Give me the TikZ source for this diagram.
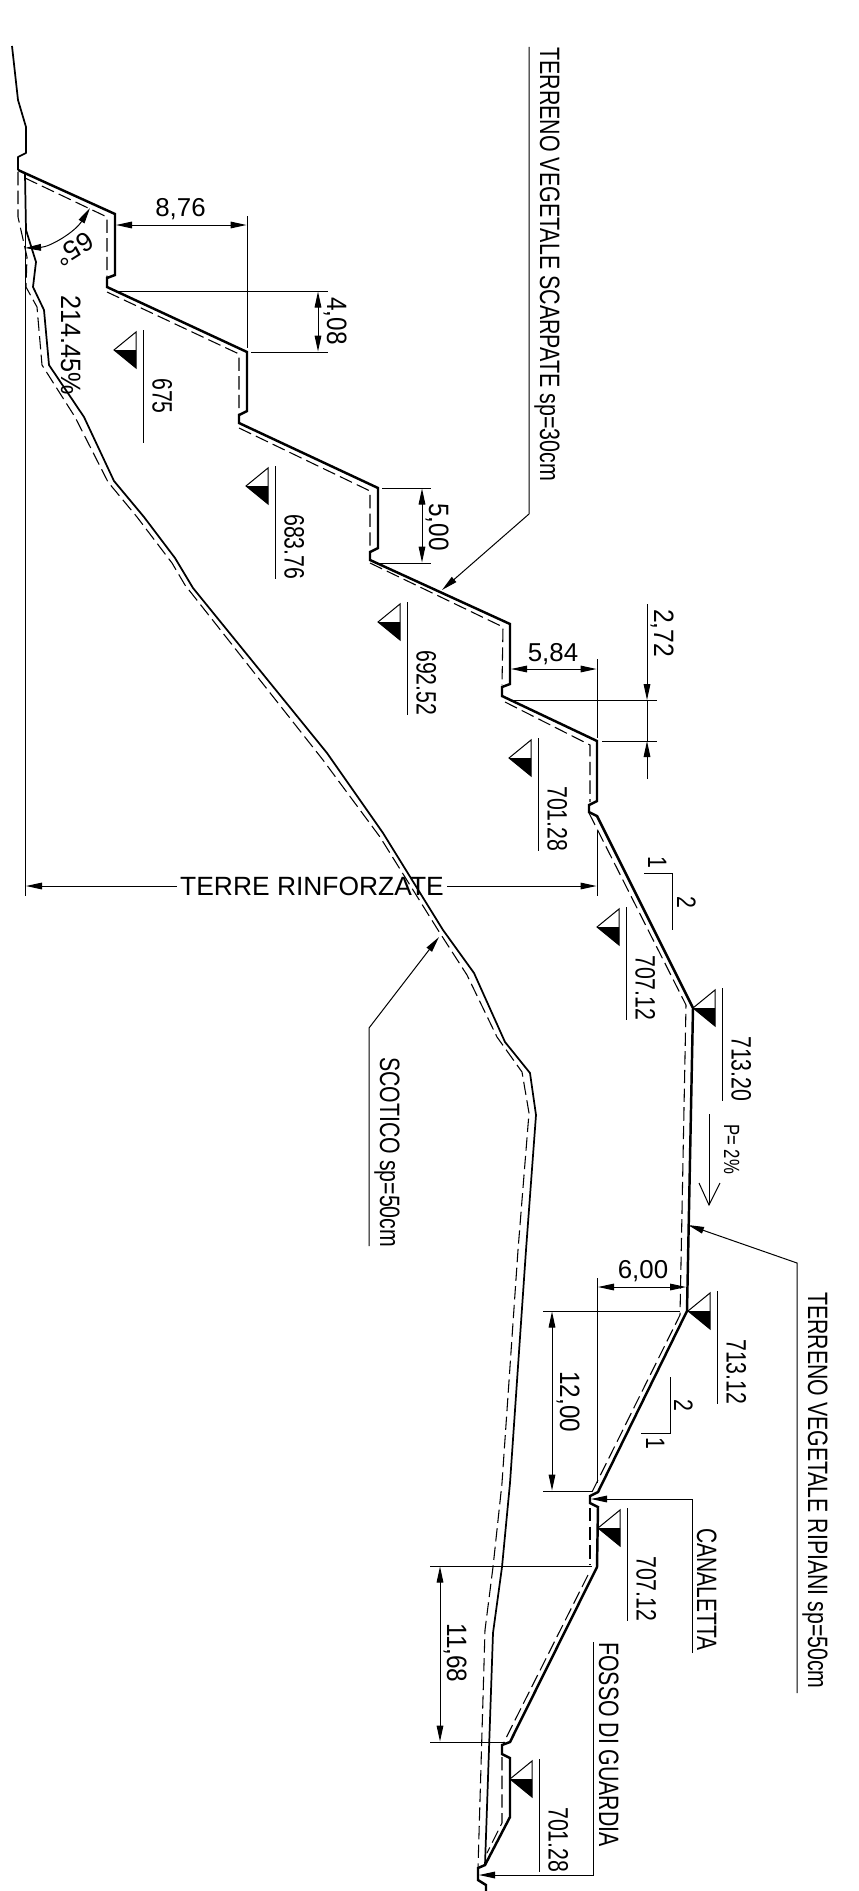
\documentclass[tikz,border=0pt]{standalone}
\usepackage{fontspec}
\usepackage{graphicx}
\setmainfont{Liberation Sans}
\usetikzlibrary{arrows.meta}
\newcommand{\vs}[2]{\scalebox{#1}[1]{#2}}
\tikzset{
  heavy/.style={line width=1.85pt,line join=miter},
  terrain/.style={line width=1.3pt,line join=round},
  dashline/.style={line width=0.8pt,dash pattern=on 10pt off 4pt},
  thin line/.style={line width=0.75pt},
  tip/.style={-{Triangle[length=12pt,width=5pt]}},
  tipboth/.style={{Triangle[length=12pt,width=5pt]}-{Triangle[length=12pt,width=5pt]}},
  vtext/.style={rotate=-90,anchor=base west,inner sep=0pt,font=\fontsize{21}{21}\selectfont},
  vmid/.style={rotate=-90,anchor=base,inner sep=0pt,font=\fontsize{20}{20}\selectfont},
  htext/.style={anchor=base,inner sep=0pt,font=\fontsize{19.4}{19.4}\selectfont},
}
\newcommand{\levelmark}[4]{%
  \draw[thin line,fill=white] (#2,#3) -- (#2+22,#3-18) -- (#2+22,#3+18) -- cycle;
  \fill (#2,#3) -- (#2+22,#3) -- (#2+22,#3+18) -- cycle;
  \draw[thin line] (#2+29,#3-20) -- (#2+29,#3+93);
  \node[vtext] (#1) at (#2+38.5,#3+28) {\vs{0.76}{#4}};
}
\begin{document}
\begin{tikzpicture}[x=0.75pt,y=-0.75pt]
\useasboundingbox (0,0) rectangle (858,1891);

% upper ground
\draw[terrain] (12,46) -- (18,100) -- (26,127) -- (26,153) -- (18,157) -- (18,170);
\draw[terrain] (25,174) -- (26,230) -- (36,262) -- (33,287) -- (44,310) -- (49,365) -- (84,417) -- (114,481)
  -- (144,517) -- (175,558) -- (193,588) -- (327,753) -- (383,833) -- (443,930) -- (474,973) -- (505,1042)
  -- (530,1073) -- (536,1115) -- (526,1250) -- (510,1483) -- (502,1567) -- (493,1633) -- (485,1865);
% ground dashed
\draw[dashline] (18,172) -- (18,217) -- (27,257) -- (26,287) -- (37,307) -- (42,365) -- (75,417) -- (108,482)
  -- (137,517) -- (172,563) -- (185,585) -- (323,760) -- (380,837) -- (438,930) -- (467,975) -- (497,1037)
  -- (522,1072) -- (529,1113) -- (518,1250) -- (502,1483) -- (493,1567) -- (485,1630) -- (478,1868);

% heavy profile
\draw[heavy] (18,170) -- (115,214) -- (115,275) -- (107,278) -- (107,287) -- (247,352) -- (247,411) -- (239,415)
  -- (239,423) -- (378,488) -- (378,548) -- (370,552) -- (370,560) -- (510,624) -- (510,684) -- (502,687)
  -- (502,696) -- (597,741) -- (597,801) -- (589,805) -- (589,812) -- (597,816) -- (693,1008) -- (687,1311)
  -- (598,1492) -- (590,1496) -- (590,1503) -- (598,1507) -- (597,1567) -- (510,1742) -- (502,1745) -- (502,1754)
  -- (510,1758) -- (510,1817) -- (485,1865) -- (478,1868) -- (478,1880) -- (486,1885) -- (486,1891);

% topsoil dashed
\draw[dashline] (25,178) -- (107,217) -- (107,278);
\draw[dashline] (107,292) -- (239,354) -- (239,415);
\draw[dashline] (239,428) -- (370,491) -- (370,551);
\draw[dashline] (370,563) -- (503,627) -- (502,685);
\draw[dashline] (505,702) -- (590,745) -- (590,802);
\draw[dashline] (589,813) -- (686,1005) -- (680,1315) -- (592,1492);
\draw[dashline] (590,1508) -- (590,1565);
\draw[dashline] (588,1575) -- (504,1742);
\draw[dashline] (502,1757) -- (502,1823) -- (487,1853);

% 8,76
\draw[thin line] (247,216) -- (247,348);
\draw[thin line,tipboth] (116,225) -- (246.5,225);
\node[htext] (d876) at (180.5,216.5) {8,76};
% 4,08
\draw[thin line] (118,291) -- (328,291);
\draw[thin line] (251,352) -- (328,352);
\draw[thin line,tipboth] (318,291.5) -- (318,351.5);
\node[vtext] (d408) at (327,297) {\vs{0.87}{4,08}};
% 5,00
\draw[thin line] (382,488) -- (431,488);
\draw[thin line] (377,563) -- (431,563);
\draw[thin line,tipboth] (422,488.5) -- (422,562.5);
\node[vtext] (d500) at (429,503) {\vs{0.87}{5,00}};
% 5,84
\draw[thin line] (597,659) -- (597,738);
\draw[thin line,tipboth] (511,669) -- (596.5,669);
\node[htext] (d584) at (553,661) {5,84};
% 2,72
\draw[thin line] (513,700) -- (657,700);
\draw[thin line] (602,741) -- (657,741);
\draw[thin line] (647,700) -- (647,741);
\draw[thin line,tip] (647,604) -- (647,700);
\draw[thin line,tip] (647,779) -- (647,741);
\node[vtext] (d272) at (654,609) {\vs{0.88}{2,72}};
% 6,00
\draw[thin line] (597,1278) -- (597,1483);
\draw[thin line,tipboth] (598,1287) -- (686,1287);
\node[htext] (d600) at (643,1278) {6,00};
% 12,00
\draw[thin line] (543,1311) -- (680,1311);
\draw[thin line] (543,1491) -- (592,1491);
\draw[thin line,tipboth] (552,1311.5) -- (552,1490.5);
\node[vtext] (d1200) at (560,1371) {\vs{0.87}{12,00}};
% 11,68
\draw[thin line] (430,1566) -- (592,1566);
\draw[thin line] (430,1742) -- (505,1742);
\draw[thin line,tipboth] (440,1566.5) -- (440,1741.5);
\node[vtext] (d1168) at (447,1623) {\vs{0.87}{11,68}};
% terre rinforzate
\draw[thin line] (25.5,176) -- (25.5,896);
\draw[thin line] (597,831) -- (597,896);
\node[htext] (terre) at (312,895) {\fontsize{19.8}{19.8}\selectfont TERRE RINFORZATE};
\draw[thin line,tip] (177,886) -- (26,886);
\draw[thin line,tip] (447,886) -- (596.5,886);
% angle
\draw[thin line,tipboth] (25,248) .. controls (50,247) and (75,232) .. (90,208);
\node[rotate=-148,inner sep=0pt,font=\fontsize{20}{20}\selectfont] (ang) at (74,249) {65°};
\node[vtext] (perc) at (61,295) {\vs{0.9}{214.45\%}};

% levels
\levelmark{l675}{114}{350}{675}
\levelmark{l68376}{246}{486}{683.76}
\levelmark{l69252}{378}{622}{692.52}
\levelmark{l70128}{509}{758}{701.28}
\levelmark{l70712}{597}{927}{707.12}
\levelmark{l71320}{693}{1008}{713.20}
\levelmark{l71312}{688}{1311}{713.12}
\levelmark{l70712b}{598}{1528}{707.12}
\levelmark{l70128b}{510}{1779}{701.28}

% slope marks
\draw[thin line] (644,873) -- (672,873) -- (672,930);
\node[vmid] (s1a) at (648,862) {\vs{0.8}{1}};
\node[vmid] (s2a) at (677,902) {\vs{0.8}{2}};
\draw[thin line] (641,1433) -- (670,1433) -- (670,1377);
\node[vmid] (s2b) at (674,1405) {\vs{0.8}{2}};
\node[vmid] (s1b) at (646,1443) {\vs{0.8}{1}};

% slope arrow
\draw[thin line] (709,1114) -- (709,1205);
\draw[thin line] (699,1183) -- (709,1205) -- (720,1183);
\node[rotate=-90,anchor=base west,inner sep=0pt,font=\fontsize{16.5}{16.5}\selectfont] (pval) at (724,1124) {\vs{0.76}{P= 2\%}};

% leaders
\node[vtext] (tscarp) at (540,47) {\vs{0.765}{TERRENO VEGETALE SCARPATE sp=30cm}};
\draw[thin line,tip] (529,47) -- (529,514) -- (442,590);
\node[vtext] (tripi) at (808,1292) {\vs{0.76}{TERRENO VEGETALE RIPIANI sp=50cm}};
\draw[thin line,tip] (797,1693) -- (797,1263) -- (688,1225);
\node[vtext] (scot) at (380,1057) {\vs{0.76}{SCOTICO sp=50cm}};
\draw[thin line,tip] (369,1246) -- (369,1028) -- (439,937);
\node[vtext] (can) at (697,1528) {\vs{0.75}{CANALETTA}};
\draw[thin line,tip] (692,1653) -- (692,1499) -- (591,1499);
\node[vtext] (fosso) at (599,1642) {\vs{0.76}{FOSSO DI GUARDIA}};
\draw[thin line,tip] (593,1642) -- (593,1875) -- (479,1875);
\end{tikzpicture}
\end{document}
